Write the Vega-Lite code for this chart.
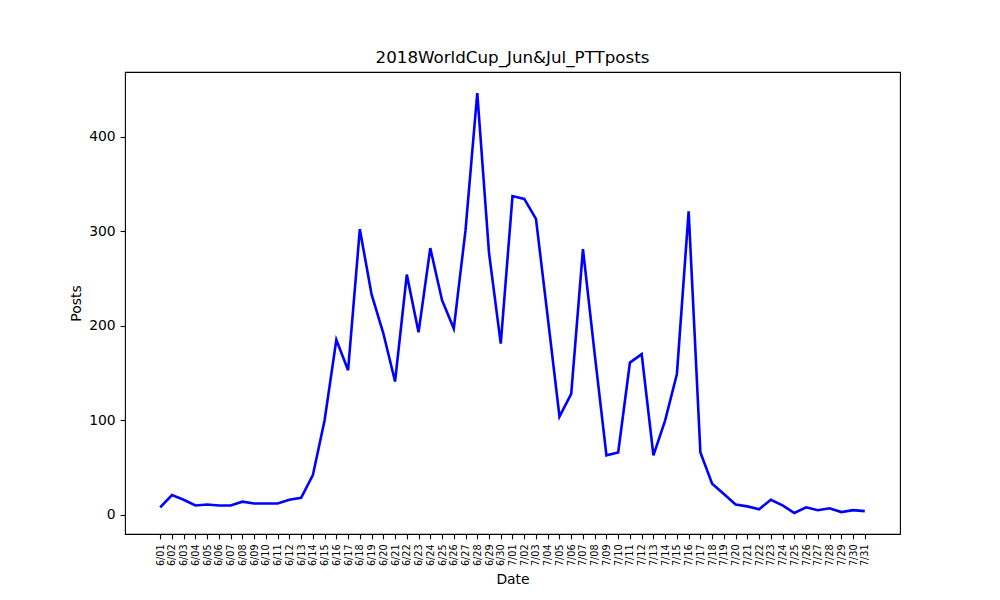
{
  "$schema": "https://vega.github.io/schema/vega-lite/v6.json",
  "width": 775,
  "height": 462,
  "autosize": {"type": "none"},
  "padding": {"left": 125, "top": 72, "right": 100, "bottom": 66},
  "background": "white",
  "config": {
    "font": "DejaVu Sans",
    "view": {"stroke": "black", "strokeWidth": 1.1},
    "axis": {
      "labelFont": "DejaVu Sans",
      "titleFont": "DejaVu Sans",
      "labelColor": "black",
      "titleColor": "black",
      "titleFontWeight": "normal",
      "domain": false,
      "grid": false,
      "tickColor": "black",
      "tickSize": 4.9,
      "tickWidth": 1.1,
      "labelPadding": 4.9,
      "titleFontSize": 13.9
    },
    "title": {"font": "DejaVu Sans", "fontSize": 16.7, "fontWeight": "normal", "color": "black"}
  },
  "title": {"text": "2018WorldCup_Jun&Jul_PTTposts", "offset": -8, "baseline": "alphabetic"},
  "data": {
    "values": [
      {"Date": "6/01", "Posts": 8},
      {"Date": "6/02", "Posts": 21},
      {"Date": "6/03", "Posts": 16},
      {"Date": "6/04", "Posts": 10},
      {"Date": "6/05", "Posts": 11},
      {"Date": "6/06", "Posts": 10},
      {"Date": "6/07", "Posts": 10},
      {"Date": "6/08", "Posts": 14},
      {"Date": "6/09", "Posts": 12},
      {"Date": "6/10", "Posts": 12},
      {"Date": "6/11", "Posts": 12},
      {"Date": "6/12", "Posts": 16},
      {"Date": "6/13", "Posts": 18},
      {"Date": "6/14", "Posts": 42},
      {"Date": "6/15", "Posts": 100},
      {"Date": "6/16", "Posts": 185},
      {"Date": "6/17", "Posts": 153},
      {"Date": "6/18", "Posts": 302},
      {"Date": "6/19", "Posts": 233},
      {"Date": "6/20", "Posts": 192},
      {"Date": "6/21", "Posts": 141},
      {"Date": "6/22", "Posts": 254},
      {"Date": "6/23", "Posts": 193},
      {"Date": "6/24", "Posts": 282},
      {"Date": "6/25", "Posts": 227},
      {"Date": "6/26", "Posts": 197},
      {"Date": "6/27", "Posts": 301},
      {"Date": "6/28", "Posts": 446},
      {"Date": "6/29", "Posts": 277},
      {"Date": "6/30", "Posts": 181},
      {"Date": "7/01", "Posts": 337},
      {"Date": "7/02", "Posts": 334},
      {"Date": "7/03", "Posts": 313},
      {"Date": "7/04", "Posts": 209},
      {"Date": "7/05", "Posts": 104},
      {"Date": "7/06", "Posts": 128},
      {"Date": "7/07", "Posts": 281},
      {"Date": "7/08", "Posts": 170},
      {"Date": "7/09", "Posts": 63},
      {"Date": "7/10", "Posts": 66},
      {"Date": "7/11", "Posts": 161},
      {"Date": "7/12", "Posts": 170},
      {"Date": "7/13", "Posts": 63},
      {"Date": "7/14", "Posts": 100},
      {"Date": "7/15", "Posts": 149},
      {"Date": "7/16", "Posts": 321},
      {"Date": "7/17", "Posts": 66},
      {"Date": "7/18", "Posts": 33},
      {"Date": "7/19", "Posts": 22},
      {"Date": "7/20", "Posts": 11},
      {"Date": "7/21", "Posts": 9},
      {"Date": "7/22", "Posts": 6},
      {"Date": "7/23", "Posts": 16},
      {"Date": "7/24", "Posts": 10},
      {"Date": "7/25", "Posts": 2},
      {"Date": "7/26", "Posts": 8},
      {"Date": "7/27", "Posts": 5},
      {"Date": "7/28", "Posts": 7},
      {"Date": "7/29", "Posts": 3},
      {"Date": "7/30", "Posts": 5},
      {"Date": "7/31", "Posts": 4}
    ]
  },
  "mark": {"type": "line", "color": "#0000ff", "strokeWidth": 2.6, "strokeJoin": "miter"},
  "encoding": {
    "x": {
      "field": "Date",
      "type": "ordinal",
      "sort": null,
      "scale": {"type": "point", "padding": 0, "range": [35.2, 739.8]},
      "axis": {"labelAngle": 270, "labelFontSize": 9.7, "titlePadding": 6.5}
    },
    "y": {
      "field": "Posts",
      "type": "quantitative",
      "scale": {"domain": [-20.2, 468.2], "nice": false, "zero": false},
      "axis": {"values": [0, 100, 200, 300, 400], "labelFontSize": 13.9, "titlePadding": 5.6}
    }
  }
}
